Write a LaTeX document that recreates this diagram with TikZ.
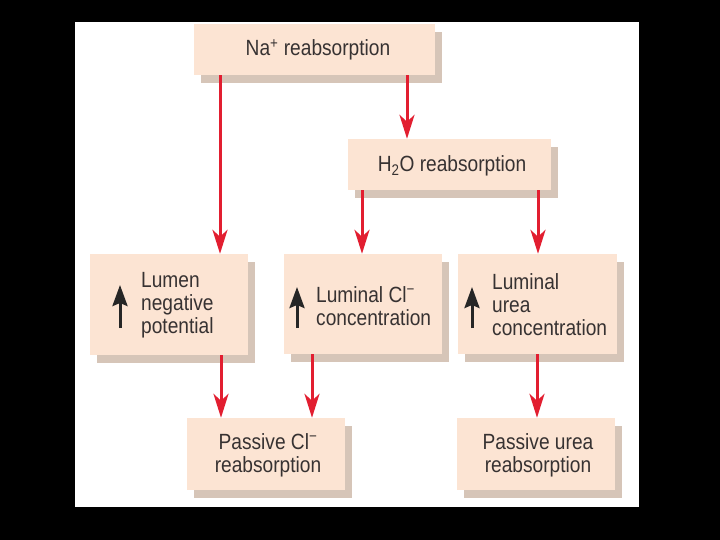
\documentclass[tikz,border=0pt]{standalone}
\usepackage{fontspec}
\setmainfont{Liberation Sans}[FakeStretch=0.87]
\usetikzlibrary{arrows.meta,shadows}
\definecolor{boxc}{RGB}{252,228,211}
\definecolor{shc}{RGB}{214,197,184}
\definecolor{arrc}{RGB}{226,30,48}
\definecolor{txtc}{RGB}{55,50,50}
\begin{document}
\begin{tikzpicture}[x=1pt,y=-1pt,
  box/.style={fill=boxc, inner sep=0pt,
    general shadow={fill=shc, shadow xshift=7pt, shadow yshift=-8pt}},
  lbl/.style={text=txtc, font=\fontsize{22}{23}\selectfont, inner sep=0pt, align=left},
  clbl/.style={lbl, align=center},
  flow/.style={draw=arrc, line width=3pt, -{Stealth[length=24pt,width=15pt,inset=7pt]}},
  uparr/.style={draw=black!85, line width=3pt, -{Stealth[length=21pt,width=15pt,inset=3pt]}}]
\fill[black] (0,0) rectangle (720,540);
\fill[white] (75,22) rectangle (639,507);
\useasboundingbox (0,0) rectangle (720,540);

% boxes
\node[box, minimum width=241pt, minimum height=51pt] (na) at (314.5,49.5) {};
\node[box, minimum width=203pt, minimum height=51pt] (h2o) at (449.5,164.5) {};
\node[box, minimum width=158pt, minimum height=101pt] (lum) at (169,304.5) {};
\node[box, minimum width=158pt, minimum height=100pt] (lcl) at (363,304) {};
\node[box, minimum width=159pt, minimum height=100pt] (lur) at (537.5,304) {};
\node[box, minimum width=158pt, minimum height=72pt] (pcl) at (266,454) {};
\node[box, minimum width=158pt, minimum height=72pt] (pur) at (536,454) {};

% labels
\node[lbl] (tna) at (318,50) {Na\textsuperscript{+} reabsorption};
\node[lbl] (th2o) at (452,166) {H\textsubscript{2}O reabsorption};
\node[lbl, anchor=west] (tlum) at (141,305) {Lumen\\negative\\potential};
\node[lbl, anchor=west] (tlcl) at (316,306) {Luminal Cl\textsuperscript{−}\\concentration};
\node[lbl, anchor=west] (tlur) at (492,305) {Luminal\\urea\\concentration};
\node[clbl] (tpcl) at (268,455) {Passive Cl\textsuperscript{−}\\reabsorption};
\node[clbl] (tpur) at (538,455) {Passive urea\\reabsorption};

% up arrows inside boxes
\coordinate (ub1) at (120,328); \coordinate (ut1) at (120,285);
\coordinate (ub2) at (297,328); \coordinate (ut2) at (297,287);
\coordinate (ub3) at (472,328); \coordinate (ut3) at (472,287);
\draw[uparr] (ub1) -- (ut1);
\draw[uparr] (ub2) -- (ut2);
\draw[uparr] (ub3) -- (ut3);

% connector x positions
\coordinate (xa) at (220,0);
\coordinate (xb) at (407,0);
\coordinate (xc) at (362,0);
\coordinate (xd) at (538,0);
\coordinate (xe) at (221,0);
\coordinate (xf) at (312,0);
\coordinate (xg) at (537,0);

\draw[flow] (na.south -| xa) -- (lum.north -| xa);
\draw[flow] (na.south -| xb) -- (h2o.north -| xb);
\draw[flow] (h2o.south -| xc) -- (lcl.north -| xc);
\draw[flow] (h2o.south -| xd) -- (lur.north -| xd);
\draw[flow] (lum.south -| xe) -- (pcl.north -| xe);
\draw[flow] (lcl.south -| xf) -- (pcl.north -| xf);
\draw[flow] (lur.south -| xg) -- (pur.north -| xg);
\end{tikzpicture}
\end{document}
